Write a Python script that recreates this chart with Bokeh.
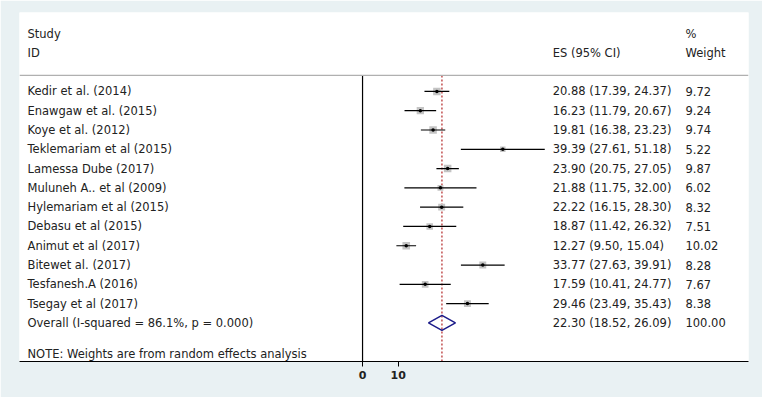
import numpy as np
from bokeh.plotting import figure
from bokeh.models import Range1d, FixedTicker, Span, ColumnDataSource
from bokeh.core.properties import value
from bokeh.embed import file_html
from bokeh.resources import INLINE

# ---- data ----
studies = ["Kedir et al. (2014)", "Enawgaw et al. (2015)", "Koye et al. (2012)",
           "Teklemariam et al (2015)", "Lamessa Dube (2017)", "Muluneh A.. et al (2009)",
           "Hylemariam et al (2015)", "Debasu et al (2015)", "Animut et al (2017)",
           "Bitewet al. (2017)", "Tesfanesh.A (2016)", "Tsegay et al (2017)"]
es = [20.88, 16.23, 19.81, 39.39, 23.90, 21.88, 22.22, 18.87, 12.27, 33.77, 17.59, 29.46]
lo = [17.39, 11.79, 16.38, 27.61, 20.75, 11.75, 16.15, 11.42, 9.50, 27.63, 10.41, 23.49]
hi = [24.37, 20.67, 23.23, 51.18, 27.05, 32.00, 28.30, 26.32, 15.04, 39.91, 24.77, 35.43]
weights = [9.72, 9.24, 9.74, 5.22, 9.87, 6.02, 8.32, 7.51, 10.02, 8.28, 7.67, 8.38]
overall_label = "Overall  (I-squared = 86.1%, p = 0.000)"
overall_es, overall_lo, overall_hi, overall_w = 22.30, 18.52, 26.09, 100.00
note = "NOTE: Weights are from random effects analysis"
x_ticks = [0, 10]

BG = "#e9f1f3"
FONT = value("DejaVu Sans")
FS = "11.5px"
TXT = "#222222"

n = len(studies)
rows = list(range(n))
ov_row = n
note_row = 13.6
hdr1, hdr2 = -3.0, -1.97
sep_row = -0.83

x_label = -94.1
x_es = 53.4
x_w = 90.7

p = figure(width=762, height=397, output_backend="svg", toolbar_location=None,
           x_range=Range1d(-96.35, 108.4), y_range=Range1d(14.0, -4.09),
           min_border_left=19, min_border_right=14, min_border_top=12, min_border_bottom=36)
p.background_fill_color = "white"
p.border_fill_color = BG
p.outline_line_color = None
p.grid.visible = False
p.yaxis.visible = False

ax = p.xaxis[0]
ax.ticker = FixedTicker(ticks=x_ticks)
ax.major_tick_in = 0
ax.major_tick_out = 5
ax.minor_tick_line_color = None
ax.axis_line_color = "black"
ax.major_tick_line_color = "black"
ax.major_label_text_font = "DejaVu Sans"
ax.major_label_text_font_size = "11px"
ax.major_label_text_font_style = "bold"
ax.major_label_text_color = TXT
ax.major_label_standoff = 4

# separator line under header
p.add_layout(Span(location=sep_row, dimension="width", line_color="#b0b0b0", line_width=1.2))

# null line at 0 and overall dashed line
p.segment(x0=[0], y0=[sep_row], x1=[0], y1=[14.0], line_color="black", line_width=1.2)
p.segment(x0=[overall_es], y0=[sep_row], x1=[overall_es], y1=[14.0],
          line_color="#b22222", line_width=1.2, line_dash="2 2")

src = ColumnDataSource(dict(y=rows, es=es, lo=lo, hi=hi,
                            size=[2.4 * np.sqrt(w) for w in weights],
                            study=studies,
                            est=[f"{e:.2f} ({a:.2f}, {b:.2f})" for e, a, b in zip(es, lo, hi)],
                            wt=[f"{w:.2f}" for w in weights]))

p.scatter(x="es", y="y", size="size", marker="square", source=src,
          fill_color="#c4c4c4", line_color=None)
p.segment(x0="lo", y0="y", x1="hi", y1="y", source=src, line_color="black", line_width=1.2)
p.scatter(x="es", y="y", size=3.5, marker="circle", source=src,
          fill_color="black", line_color=None)

# overall diamond
h = 0.39
p.patch(x=[overall_lo, overall_es, overall_hi, overall_es, overall_lo],
        y=[ov_row, ov_row - h, ov_row, ov_row + h, ov_row],
        fill_color=None, line_color="#1c1c8a", line_width=1.5)

# text columns
def txt(x, y, t):
    p.text(x=x, y=y, text=t, text_font=FONT, text_font_size=FS,
           text_color=TXT, text_baseline="middle", text_align="left")

txt([x_label] * n, rows, studies)
txt([x_es] * n, rows, src.data["est"])
txt([x_w] * n, rows, src.data["wt"])
txt([x_label, x_label, x_es, x_w, x_w], [hdr1, hdr2, hdr2, hdr1, hdr2],
    ["Study", "ID", "ES (95% CI)", "%", "Weight"])
txt([x_label, x_es, x_w], [ov_row] * 3,
    [overall_label, f"{overall_es:.2f} ({overall_lo:.2f}, {overall_hi:.2f})", f"{overall_w:.2f}"])
txt([x_label], [note_row], [note])

open("out.html", "w").write(file_html(p, INLINE))
